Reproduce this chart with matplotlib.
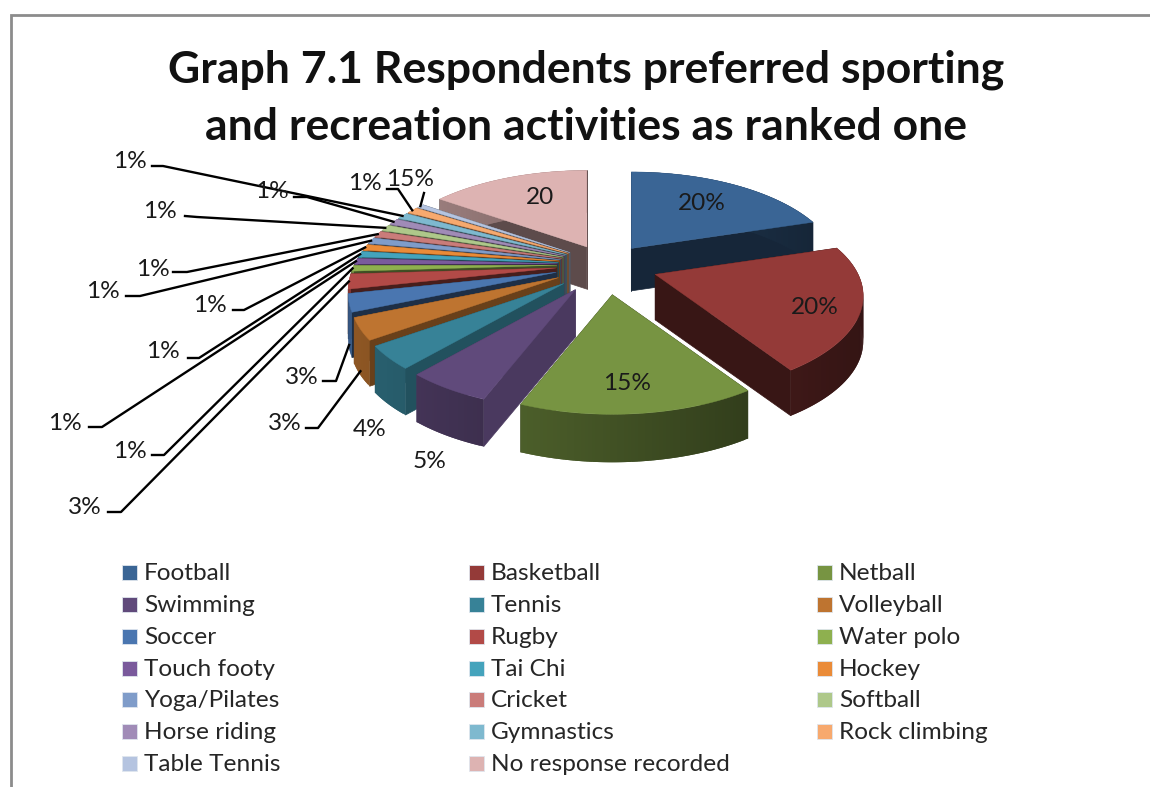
import numpy as np
import matplotlib
matplotlib.use("Agg")
import matplotlib.pyplot as plt
from matplotlib.patches import Polygon, Rectangle
from matplotlib.colors import to_rgb

plt.rcParams['font.family'] = ['Lato', 'DejaVu Sans']

categories = ['Football', 'Basketball', 'Netball', 'Swimming', 'Tennis', 'Volleyball',
              'Soccer', 'Rugby', 'Water polo', 'Touch footy', 'Tai Chi', 'Hockey',
              'Yoga/Pilates', 'Cricket', 'Softball', 'Horse riding', 'Gymnastics',
              'Rock climbing', 'Table Tennis', 'No response recorded']
# share of the circle each slice takes in the picture
shares = [16.9, 21.8, 18.55, 6.53, 4.31, 3.89, 3.06, 2.5, 0.94, 0.94, 0.94, 0.94,
          0.94, 0.94, 0.94, 0.94, 0.94, 0.94, 0.55, 12.5]
# printed labels, they do not agree with the slice sizes in the original
labels = ['20%', '20%', '15%', '5%', '4%', '3%', '3%', '3%', '1%', '1%', '1%', '1%',
          '1%', '1%', '1%', '1%', '1%', '1%', '15%', '20']

colors = ['#3a6595', '#943a38', '#779442', '#604a7b', '#378297', '#be7430', '#4a76b0',
          '#b24a47', '#8eb04f', '#7a5a9c', '#44a3bc', '#ea8b38', '#7f9cc9', '#ca7c7a',
          '#aec88a', '#a08bb7', '#7eb9cf', '#f7a96e', '#b5c4e0', '#ddb3b2']
edge_dark = [0.38, 0.38, 0.45, 0.77, 0.62, 0.55, 0.4, 0.4, 0.45, 0.45, 0.45, 0.45,
             0.45, 0.45, 0.45, 0.45, 0.45, 0.45, 0.45, 0.42]

# label centre, then elbow of the leader (None means no leader)
label_pos = [(702, 203), (815, 308), (627, 383), (430, 461), (370, 429), (285, 423),
             (302, 377), (85, 507), (130, 451), (65, 423), (163, 352), (210, 305),
             (103, 292), (153, 269), (160, 212), (272, 192), (130, 162), (365, 184),
             (410, 180), (540, 198)]
leader = [None, None, None, None, None, ((306, 428), (318, 428)), ((323, 381), (336, 381)),
          ((108, 512), (121, 512)), ((152, 455), (164, 455)), ((89, 427), (102, 427)),
          ((188, 358), (199, 358)), ((233, 310), (244, 310)), ((126, 296), (140, 296)),
          ((173, 272), (187, 272)), ((185, 216), (197, 217)), ((294, 197), (307, 197)),
          ((152, 166), (163, 166)), ((387, 189), (398, 189)), ((424, 193), (424, 193)), None]

cx, cy = 606, 270
rx, ry = 208, 98
persp = 21.5
ex_x, ex_y = 50, 25
depth = 45
label_size = 17.6


def shade(c, f):
    return tuple(v * f for v in to_rgb(c))


def apex(t):
    return cx + ex_x * np.sin(t), cy - ex_y * np.cos(t)


def rim(ax0, ay0, t):
    return ax0 + rx * np.sin(t), ay0 + persp - ry * np.cos(t)


fig = plt.figure(figsize=(11.5, 7.87), dpi=100)
ax = fig.add_axes([0, 0, 1, 1])
ax.set_xlim(0, 1150)
ax.set_ylim(787, 0)
ax.axis('off')

ax.plot([10.5, 10.5, 1150], [787, 15, 15], color='#8c8c8c', lw=2, solid_joinstyle='miter')

edges = np.cumsum([0] + shares) / sum(shares) * 2 * np.pi
mids = (edges[:-1] + edges[1:]) / 2
order = np.argsort(-np.cos(mids))

for i in order:
    t0, t1 = edges[i], edges[i + 1]
    ax0, ay0 = apex(mids[i])
    d = depth - 3 * np.cos(mids[i])
    ts = np.linspace(t0, t1, max(int((t1 - t0) * 60), 3))
    pts = [rim(ax0, ay0, t) for t in ts]
    wall = shade(colors[i], edge_dark[i])
    for p in (pts[0], pts[-1]):
        ax.add_patch(Polygon([(ax0, ay0), p, (p[0], p[1] + d), (ax0, ay0 + d)],
                             fc=wall, ec=wall, lw=0.5, zorder=2))
    # each strip of the outer wall runs on under the next one so no seams show
    for k in range(len(pts) - 1):
        a = pts[k]
        b = pts[min(k + 2, len(pts) - 1)]
        c = shade(colors[i], 0.55 - 0.2 * np.sin(ts[k]))
        ax.add_patch(Polygon([a, b, (b[0], b[1] + d), (a[0], a[1] + d)],
                             fc=c, ec='none', zorder=2))
    ax.add_patch(Polygon([(ax0, ay0)] + pts, fc=colors[i], ec=colors[i], lw=0.3, zorder=2))

for i, lab in enumerate(labels):
    x, y = label_pos[i]
    ax.text(x, y, lab, fontsize=label_size, ha='center', va='center', color='#1a1a1a', zorder=5)
    if leader[i] is not None:
        ax0, ay0 = apex(mids[i])
        ex, ey = rim(ax0, ay0, mids[i])
        if i in (5, 6):
            ey += depth - 3
        pts = list(leader[i]) + [(ex, ey)]
        ax.plot([p[0] for p in pts], [p[1] for p in pts], color='black', lw=1.7, zorder=4)

ax.text(586, 70, 'Graph 7.1 Respondents preferred sporting', fontsize=32, fontweight='bold',
        ha='center', va='center', color='#111111')
ax.text(586, 127, 'and recreation activities as ranked one', fontsize=32, fontweight='bold',
        ha='center', va='center', color='#111111')

col_x = [122, 469, 817]
row_y = [572, 604, 636, 668, 699, 731, 763]
for i, name in enumerate(categories):
    x = col_x[i % 3]
    y = row_y[i // 3]
    ax.add_patch(Rectangle((x, y - 7), 15, 15, fc=colors[i], ec='#dfe6ee', lw=0.6))
    ax.text(x + 22, y + 1.5, name, fontsize=label_size, ha='left', va='center', color='#262626')

fig.savefig('out.png', dpi=100)
